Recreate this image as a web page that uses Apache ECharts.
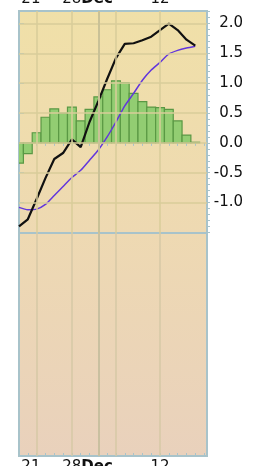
<!DOCTYPE html>
<html>
<head>
<meta charset="utf-8">
<script src="https://cdn.jsdelivr.net/npm/echarts@6/dist/echarts.min.js"></script>
<style>
  html, body { margin: 0; padding: 0; background: #fff; }
  #macdChart { width: 255px; height: 466px; }
</style>
</head>
<body>
<div id="macdChart"></div>
<script>
// one value per trading day, index 0 = first (half hidden) bar
let macdLine = [-1.40, -1.28, -0.94, -0.59, -0.27, -0.17, 0.06, -0.07, 0.35, 0.70, 1.07, 1.42, 1.66, 1.67, 1.72, 1.78, 1.89, 2.00, 1.89, 1.73, 1.63];
let signalLine = [-1.08, -1.12, -1.11, -1.03, -0.88, -0.73, -0.58, -0.46, -0.29, -0.12, 0.10, 0.35, 0.62, 0.83, 1.05, 1.22, 1.35, 1.49, 1.55, 1.59, 1.62];
let histogram = [-0.34, -0.18, 0.17, 0.43, 0.57, 0.50, 0.60, 0.37, 0.56, 0.77, 0.89, 1.04, 1.01, 0.83, 0.69, 0.60, 0.59, 0.56, 0.37, 0.13, 0.01];

// x axis labels (positions in day index)
let dateLabelPos = [1.35, 7.77, 16];
let dateLabels = ['21', '28{b|Dec}', '12'];
// vertical grid lines (day index)
let dateGridPos = [2, 6, 9, 11, 16];

// y axis
let yTicks = [-1.0, -0.5, 0.0, 0.5, 1.0, 1.5, 2.0];
let yMinorTicks = [];
for (let v = -15; v <= 22; v++) { yMinorTicks.push(v / 10); }

let font = 'DejaVu Sans';
let edgeColor = '#a8c3ca';
let gridColor = '#d9cc9a';

function toPairs(arr) {
    return arr.map((v, i) => [i, v]);
}

function dateFormatter(value) {
    let idx = dateLabelPos.indexOf(value);
    return idx >= 0 ? dateLabels[idx] : '';
}

function xAxisFor(gridIndex, position) {
    return {
        gridIndex: gridIndex,
        type: 'value',
        position: position,
        min: 0,
        max: 21.33,
        interval: 1,
        axisLine: { show: false },
        axisTick: { inside: true, length: 3, lineStyle: { color: edgeColor, width: 1 } },
        axisLabel: {
            customValues: dateLabelPos,
            formatter: dateFormatter,
            margin: position === 'top' ? 4 : 4,
            fontFamily: font,
            fontSize: 15,
            color: '#111',
            rich: { b: { fontFamily: font, fontSize: 15, fontWeight: 'bold', color: '#111' } }
        },
        splitLine: { show: false }
    };
}

// histogram bar: one day wide, centred on its day
function renderBar(params, api) {
    let day = api.value(0);
    let val = api.value(1);
    let p0 = api.coord([day - 0.5, 0]);
    let p1 = api.coord([day + 0.5, val]);
    return {
        type: 'rect',
        shape: {
            x: p0[0],
            y: Math.min(p0[1], p1[1]),
            width: p1[0] - p0[0],
            height: Math.abs(p1[1] - p0[1])
        },
        style: { fill: '#92cd72', stroke: '#5a9844', lineWidth: 1.2 }
    };
}

let myChart = echarts.init(document.getElementById('macdChart'));

myChart.setOption({
    animation: false,
    backgroundColor: '#ffffff',
    grid: [
        {
            left: 19, top: 11, width: 188, height: 222,
            outerBoundsMode: 'none',
            containLabel: false,
            show: true,
            backgroundColor: new echarts.graphic.LinearGradient(0, 0, 0, 1, [
                { offset: 0, color: '#f0e0a8' },
                { offset: 1, color: '#eed9b2' }
            ]),
            borderColor: edgeColor,
            borderWidth: 2
        },
        {
            left: 19, top: 233, width: 188, height: 223,
            outerBoundsMode: 'none',
            containLabel: false,
            show: true,
            backgroundColor: new echarts.graphic.LinearGradient(0, 0, 0, 1, [
                { offset: 0, color: '#eed9b2' },
                { offset: 1, color: '#e9d1bc' }
            ]),
            borderColor: edgeColor,
            borderWidth: 2
        }
    ],
    xAxis: [
        xAxisFor(0, 'top'),
        xAxisFor(1, 'bottom')
    ],
    yAxis: [
        {
            gridIndex: 0,
            type: 'value',
            position: 'right',
            min: -1.51,
            max: 2.21,
            axisLine: { show: false },
            axisTick: { customValues: yTicks, length: 5, lineStyle: { color: edgeColor } },
            axisLabel: {
                customValues: yTicks,
                formatter: v => v.toFixed(1),
                align: 'right',
                margin: 36,
                fontFamily: font,
                fontSize: 15,
                color: '#111'
            },
            splitLine: { show: false }
        },
        {
            gridIndex: 0,
            type: 'value',
            position: 'right',
            min: -1.51,
            max: 2.21,
            axisLine: { show: false },
            axisTick: { customValues: yMinorTicks, length: 3, lineStyle: { color: edgeColor } },
            axisLabel: { show: false },
            splitLine: { show: false }
        },
        {
            gridIndex: 1,
            type: 'value',
            min: 0,
            max: 1,
            show: false
        }
    ],
    series: [
        {
            // grid lines of the top panel
            type: 'line',
            xAxisIndex: 0,
            yAxisIndex: 0,
            data: [],
            z: 1,
            markLine: {
                silent: true,
                symbol: 'none',
                animation: false,
                label: { show: false },
                lineStyle: { color: gridColor, width: 1.5, type: 'solid' },
                data: yTicks.map(v => ({ yAxis: v }))
                    .concat(dateGridPos.map(v => ({ xAxis: v, lineStyle: { color: v === 9 ? '#c9c197' : gridColor, width: v === 9 ? 2 : 1.5 } })))
            }
        },
        {
            // grid lines of the bottom panel
            type: 'line',
            xAxisIndex: 1,
            yAxisIndex: 2,
            data: [],
            z: 1,
            markLine: {
                silent: true,
                symbol: 'none',
                animation: false,
                label: { show: false },
                lineStyle: { color: '#d6c9a6', width: 1.5, type: 'solid' },
                data: dateGridPos.map(v => ({ xAxis: v, lineStyle: { color: v === 9 ? '#c9c0a0' : '#d6c9a6', width: v === 9 ? 2 : 1.5 } }))
            }
        },
        {
            name: 'Histogram',
            type: 'custom',
            xAxisIndex: 0,
            yAxisIndex: 0,
            data: toPairs(histogram),
            renderItem: renderBar,
            clip: true,
            z: 2
        },
        {
            name: 'Signal',
            type: 'line',
            xAxisIndex: 0,
            yAxisIndex: 0,
            data: toPairs(signalLine),
            symbol: 'none',
            smooth: 0.2,
            z: 3,
            lineStyle: { color: '#6236dc', width: 1.5 }
        },
        {
            name: 'MACD',
            type: 'line',
            xAxisIndex: 0,
            yAxisIndex: 0,
            data: toPairs(macdLine),
            symbol: 'none',
            z: 4,
            lineStyle: { color: '#111111', width: 2.2 }
        }
    ]
});
</script>
</body>
</html>
